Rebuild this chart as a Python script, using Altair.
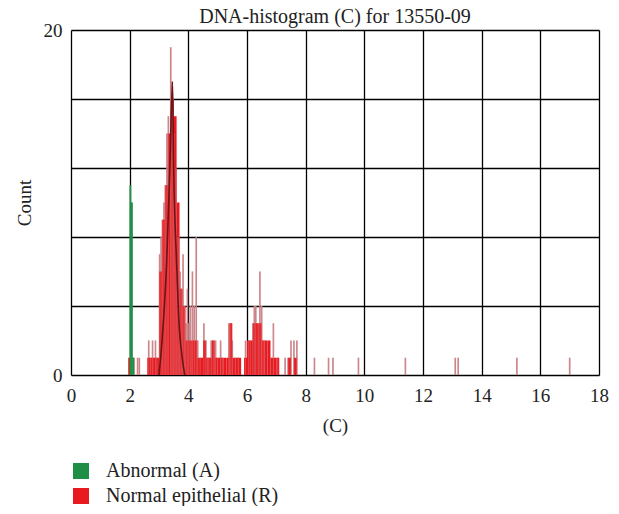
import altair as alt
import pandas as pd

# ---------------- data ----------------
# Abnormal (A): fine histogram bins (left edge, width 0.05)
green_start = [2.00, 2.05, 2.10]
green_count = [11, 10, 1]
GREEN_BIN = 0.05

# Normal epithelial (R): coarse filled histogram (left edge, width 0.1)
red_start = [1.95, 2.6, 2.7, 2.8, 2.9, 3.0, 3.1, 3.2, 3.3, 3.4, 3.5, 3.6, 3.7, 3.8, 3.9,
             4.0, 4.1, 4.2, 4.3, 4.4, 4.5, 4.6, 4.7, 4.8, 4.9, 5.0, 5.1, 5.2, 5.3, 5.4,
             5.5, 5.6, 5.7, 5.9, 6.0, 6.1, 6.2, 6.3, 6.4, 6.5, 6.6, 6.7, 6.8, 6.9,
             7.0, 7.4, 7.6]
red_count = [1, 1, 1, 1, 1, 6, 9, 11, 14, 16, 15, 10, 5, 4, 2,
             2, 2, 2, 1, 1, 2, 1, 1, 2, 1, 1, 1, 1, 1, 3,
             1, 1, 1, 1, 2, 2, 3, 3, 3, 2, 2, 2, 1, 1,
             1, 1, 1]
RED_BIN = 0.1

# Normal epithelial (R): fine-resolution spikes
spike_x = [2.15, 2.27, 2.33, 2.65, 2.72, 2.78, 2.88, 2.93,
           3.02, 3.07, 3.12, 3.17, 3.22, 3.27, 3.32, 3.40, 3.44, 3.48, 3.52, 3.57,
           3.62, 3.67, 3.72, 3.77, 3.82, 3.87, 3.92, 3.97, 4.02, 4.07, 4.14, 4.20,
           4.27, 4.32, 4.40, 4.53, 4.60, 4.65, 4.70, 4.78, 4.85, 4.93, 5.00, 5.10,
           5.17, 5.38, 5.45, 5.50, 5.60, 5.70, 5.95, 6.05, 6.12, 6.20, 6.25, 6.30,
           6.38, 6.44, 6.50, 6.55, 6.60, 6.70, 6.80, 6.90, 7.05, 7.30, 7.40, 7.50,
           7.60, 7.70, 8.30, 8.78, 8.93, 9.80, 11.40, 13.10, 13.20, 15.20, 17.00]
spike_count = [1, 1, 1, 2, 1, 2, 2, 1,
               7, 8, 9, 10, 11, 14, 15, 19, 17, 16, 14, 12,
               8, 8, 6, 5, 7, 4, 3, 5, 3, 4, 6, 4,
               8, 2, 1, 3, 2, 1, 1, 2, 2, 2, 1, 2,
               1, 3, 3, 2, 1, 1, 2, 2, 2, 3, 4, 4,
               3, 6, 4, 2, 2, 1, 1, 3, 1, 1, 1, 2,
               2, 2, 1, 1, 1, 1, 1, 1, 1, 1, 1]

# fitted peak outline
curve_x = [3.00, 3.10, 3.26, 3.37, 3.46, 3.50, 3.60, 3.67, 3.79, 3.88]
curve_y = [0.0, 1.9, 6.5, 12.0, 17.0, 12.0, 6.5, 3.4, 1.0, 0.0]

series_names = ["Abnormal (A)", "Normal epithelial (R)"]
series_colors = ["#1f8f45", "#e8191f"]

x_ticks = list(range(0, 19))
y_ticks = [0, 4, 8, 12, 16, 20]

# ---------------- tables ----------------
bars = pd.concat([
    pd.DataFrame({"x": green_start, "count": green_count,
                  "x2": [v + GREEN_BIN for v in green_start],
                  "series": series_names[0]}),
    pd.DataFrame({"x": red_start, "count": red_count,
                  "x2": [v + RED_BIN for v in red_start],
                  "series": series_names[1]}),
], ignore_index=True)
bars["order"] = bars["series"].map({series_names[1]: 0, series_names[0]: 1})
bars = bars.sort_values("order")

spikes = pd.DataFrame({"x": spike_x, "count": spike_count})
curve = pd.DataFrame({"x": curve_x, "count": curve_y})

FONT = "Liberation Serif"
TXT = "#222222"

xscale = alt.Scale(domain=[0, 18], nice=False, zero=False)
yscale = alt.Scale(domain=[0, 20], nice=False)

xaxis = alt.Axis(values=x_ticks, labelExpr="datum.value % 2 == 0 ? datum.label : ''",
                 grid=True, gridColor="#000000", gridWidth=1.3, gridOpacity=1,
                 ticks=False, domain=False, labelFontSize=19, labelFont=FONT,
                 labelColor=TXT, labelPadding=11, title="(C)",
                 titleFont=FONT, titleFontSize=19, titleFontWeight="normal",
                 titleColor=TXT, titlePadding=11, labelFlush=False)
yaxis = alt.Axis(values=y_ticks,
                 labelExpr="datum.value == 0 || datum.value == 20 ? datum.label : ''",
                 grid=True, gridColor="#000000", gridWidth=1.7, gridOpacity=1,
                 ticks=False, domain=False, labelFontSize=19, labelFont=FONT,
                 labelColor=TXT, labelPadding=9, title="Count",
                 titleFont=FONT, titleFontSize=19, titleFontWeight="normal",
                 titleColor=TXT, titlePadding=9, labelFlush=False)

spike_under = alt.Chart(spikes).mark_rule(color="#c4787d", strokeWidth=1.6, opacity=0.95).encode(
    x=alt.X("x:Q", scale=xscale, axis=xaxis),
    y=alt.Y("count:Q", scale=yscale, axis=yaxis),
    y2=alt.datum(0),
)

base_bars = alt.Chart(bars).mark_rect().encode(
    x=alt.X("x:Q", scale=xscale),
    x2="x2:Q",
    y=alt.Y("count:Q", scale=yscale),
    y2=alt.datum(0),
    color=alt.Color("series:N",
                    scale=alt.Scale(domain=series_names, range=series_colors),
                    legend=alt.Legend(title=None, orient="none", legendX=0, legendY=431,
                                      symbolType="square", symbolSize=256,
                                      symbolStrokeWidth=0, symbolOpacity=1,
                                      labelFont=FONT, labelFontSize=20, labelLimit=400,
                                      labelColor=TXT, labelOffset=15,
                                      rowPadding=5, padding=0)),
    order=alt.Order("order:Q"),
)

spike_over = alt.Chart(spikes).mark_rule(color="#d99a9e", strokeWidth=1.0, opacity=0.35).encode(
    x=alt.X("x:Q", scale=xscale),
    y=alt.Y("count:Q", scale=yscale),
    y2=alt.datum(0),
)

curve_layer = alt.Chart(curve).mark_line(color="#6a1518", strokeWidth=1.6,
                                         interpolate="monotone").encode(
    x=alt.X("x:Q", scale=xscale),
    y=alt.Y("count:Q", scale=yscale),
)

green_top = alt.Chart(bars[bars["series"] == series_names[0]]).mark_rect(color=series_colors[0]).encode(
    x=alt.X("x:Q", scale=xscale),
    x2="x2:Q",
    y=alt.Y("count:Q", scale=yscale),
    y2=alt.datum(0),
)

chart = alt.layer(spike_under, base_bars, spike_over, curve_layer, green_top).properties(
    width=528, height=345,
    title=alt.TitleParams("DNA-histogram (C) for 13550-09", font=FONT, fontSize=20,
                          fontWeight="normal", color=TXT, anchor="middle", offset=0,
                          dy=6),
    autosize=alt.AutoSizeParams(type="none"),
    padding={"left": 63, "top": 22, "right": 12, "bottom": 131},
).configure_view(stroke="#000000", strokeWidth=1.6).configure(background="#ffffff")

chart.save("out.html", embed_options={"renderer": "svg", "actions": False})
